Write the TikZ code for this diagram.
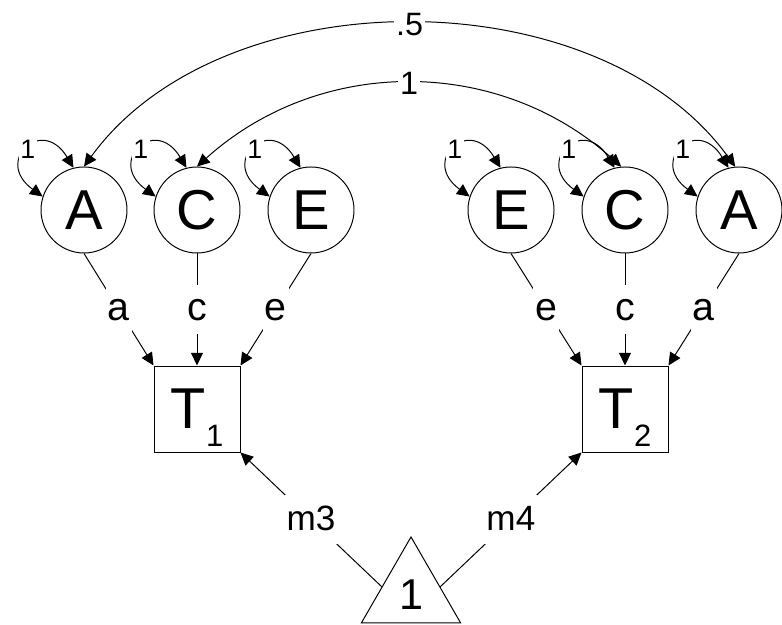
\documentclass[tikz,border=0pt]{standalone}
\usepackage{fontspec}
\setmainfont{Liberation Sans}
\usetikzlibrary{shapes.geometric,arrows.meta,calc}
\tikzset{%
	latent/.style   = {draw, circle, minimum size=2.15cm, inner sep=0pt,
		font=\fontsize{40}{48}\selectfont}, % Latent
	manifest/.style = {draw, rectangle, minimum size=2.15cm, inner sep=0pt,
		text depth=0pt, font=\fontsize{41}{49}\selectfont}, % Observed
	const/.style    = {draw, regular polygon, regular polygon sides=3,
		minimum size=2.867cm, inner sep=0pt,
		font=\fontsize{30.7}{37}\selectfont}, % Constant
	lbl/.style      = {fill=white, inner xsep=1.5pt, inner ysep=0pt,
		text height=25pt, text depth=10pt, font=\fontsize{28}{33}\selectfont},
	meanlbl/.style  = {lbl, font=\fontsize{25}{30}\selectfont},
	covlbl/.style   = {fill=white, inner sep=1.5pt, font=\fontsize{23}{27}\selectfont},
	varlbl/.style   = {fill=white, inner sep=1pt, font=\fontsize{19}{23}\selectfont},
	varloop/.style  = {out=144, in=121, looseness=3.7} % Variance
}

\begin{document}
\begin{tikzpicture}[line width=0.7pt, >={Triangle[length=9pt,width=8.5pt]}]
			\useasboundingbox (0,0) rectangle (19.55,15.625);
			\node[latent]   (aOne)    at (2.1,10.375)    {A};
			\node[latent]   (cOne)    at (4.925,10.375)  {C};
			\node[latent]   (eOne)    at (7.775,10.375)  {E};
			\node[latent]   (eTwo)    at (12.775,10.375) {E};
			\node[latent]   (cTwo)    at (15.625,10.375) {C};
			\node[latent]   (aTwo)    at (18.475,10.375) {A};
			\node[manifest] (twinOne) at (4.925,5.4)  {T\raisebox{-12.4pt}{\fontsize{22}{26}\selectfont 1}};
			\node[manifest] (twinTwo) at (15.625,5.4) {T\raisebox{-12.4pt}{\fontsize{22}{26}\selectfont 2}};
			\node[const]    (mean)    at (10.275,0.7675) {1};
			
			\draw[<->] (aOne.162) to[varloop] node[varlbl]{1} (aOne.104);
			\draw[<->] (cOne.162) to[varloop] node[varlbl]{1} (cOne.104);
			\draw[<->] (eOne.162) to[varloop] node[varlbl]{1} (eOne.104);
			\draw[<->] (eTwo.162) to[varloop] node[varlbl]{1} (eTwo.104);
			\draw[<->] (cTwo.162) to[varloop] node[varlbl]{1} (cTwo.104);
			\draw[<->] (aTwo.162) to[varloop] node[varlbl]{1} (aTwo.104);
			
			\draw[<->] (aOne.north) to[out=54,in=126,looseness=0.925] node[covlbl]{.5} (aTwo.95);
			\draw[<->] (cOne.north) to[out=42,in=138,looseness=1] node[covlbl]{1} (cTwo.95);
			
			\draw[->] (aOne.south) -- node[lbl]{a} (twinOne.north west);
			\draw[->] (cOne.south) -- node[lbl]{c} (twinOne.north);
			\draw[->] (eOne.south) -- node[lbl]{e} (twinOne.north east);
			\draw[->] (eTwo.south) -- node[lbl]{e} (twinTwo.north west);
			\draw[->] (cTwo.south) -- node[lbl]{c} (twinTwo.north);
			\draw[->] (aTwo.south) -- node[lbl]{a} (twinTwo.north east);
			
			\draw[->] ($(mean.corner 1)!0.58!(mean.corner 2)$) -- node[meanlbl]{m3} (twinOne.south east);
			\draw[->] ($(mean.corner 1)!0.58!(mean.corner 3)$) -- node[meanlbl]{m4} (twinTwo.south west);
		\end{tikzpicture}
\end{document}
